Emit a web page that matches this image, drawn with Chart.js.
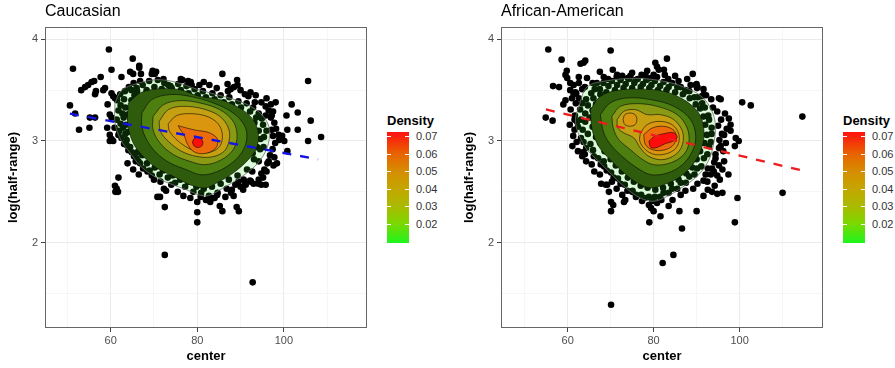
<!DOCTYPE html>
<html>
<head>
<meta charset="utf-8">
<script src="https://cdn.jsdelivr.net/npm/chart.js@4.4.0/dist/chart.umd.min.js"></script>
<style>
  body { margin: 0; background: #fff; width: 895px; height: 368px; position: relative; overflow: hidden;
         font-family: "Liberation Sans", Arial, sans-serif; }
  .panel { position: absolute; top: 0; width: 380px; height: 368px; }
  .title { position: absolute; top: 2px; font-size: 16px; line-height: 18px; color: #000; white-space: nowrap; }
  .leg-title { position: absolute; top: 113px; font-size: 13px; line-height: 15px; font-weight: bold; color: #000; }
  .bar { position: absolute; top: 132px; width: 22px; height: 111px;
         background: linear-gradient(to top, #1ef51e 0%, #7ad800 17%, #aabb00 33%, #c4a600 49%, #d68c00 65%, #e86400 80%, #ff1010 100%); }
  .tk { position: absolute; width: 4px; height: 1px; background: #fff; }
  .lab { position: absolute; font-size: 11px; line-height: 12px; color: #333; }
</style>
</head>
<body>
<div class="panel" style="left:0px"><canvas id="cau" width="380" height="368"></canvas></div>
<div class="panel" style="left:456px"><canvas id="aa" width="380" height="368"></canvas></div>
<div class="title" style="left:45px">Caucasian</div>
<div class="title" style="left:501px">African-American</div>
<div id="legends"></div>

<script>
// axis ticks
var xGrid = [50, 60, 70, 80, 90, 100, 110];
var xLabels = [60, 80, 100];
var yGrid = [1.5, 2, 2.5, 3, 3.5, 4];
var yLabels = [2, 3, 4];
var densityTicks = [0.02, 0.03, 0.04, 0.05, 0.06, 0.07];
var densityRange = [0.0089, 0.0723];

// Caucasian: observations (center, log(half-range))
var cauPoints = [
  [59.6,3.90],[51.3,3.71],[60.2,3.70],[65.1,3.81],[66.6,3.74],[66.6,3.72],[64.5,3.68],[69.5,3.66],[70.5,3.68],[69.7,3.69],
  [62.5,3.63],[57.7,3.63],[56.2,3.59],[53.2,3.50],[54.1,3.53],[54.8,3.55],[55.6,3.58],[56.6,3.49],[56.4,3.46],[58.7,3.52],
  [58.3,3.50],[60.2,3.47],[60.6,3.44],[61.4,3.42],[50.6,3.35],[51.8,3.27],[55.2,3.23],[56.4,3.23],[59.3,3.36],[59.8,3.26],
  [60.2,3.23],[52.7,3.11],[55.1,3.13],[59.2,3.13],[59.8,3.06],[60.2,3.02],[59.8,3.00],[60.6,3.00],[61.8,3.06],[60.9,3.13],
  [63.7,2.96],[64.1,2.91],[66.0,2.83],[66.4,2.80],[63.9,2.78],[65.2,2.72],[61.8,2.64],[61.0,2.56],[61.4,2.53],[61.7,2.50],
  [61.1,2.50],[66.5,2.67],[69.5,2.66],[70.8,2.45],[71.4,2.45],[72.5,2.35],[72.5,1.88],[72.3,2.53],[72.8,2.51],[74.0,2.57],
  [80.0,2.40],[80.0,2.30],[80.0,2.20],[80.8,2.45],[85.2,2.36],[85.8,2.31],[86.5,2.45],[87.8,2.49],[89.1,2.35],[89.6,2.31],
  [92.2,2.61],[94.8,2.57],[95.8,2.57],[92.8,1.61],[85.8,3.66],[65.2,3.66],[67.0,3.66],[70.2,3.66],[72.2,3.61],[73.3,3.55],
  [74.1,3.52],[76.2,3.61],[77.9,3.59],[78.7,3.55],[66.8,3.59],[66.0,3.52],[64.8,3.50],[63.3,3.49],[62.2,3.46],[61.0,3.42],
  [76.6,3.60],[78.5,3.58],[89.2,3.60],[89.3,3.55],[87.7,3.51],[87.1,3.49],[91.8,3.44],[93.3,3.38],[98.1,3.38],[101.8,3.36],
  [103.2,3.28],[100.6,3.25],[106.2,3.20],[105.6,3.59],[108.6,3.04],[105.6,3.00],[100.8,3.11],[103.2,3.11],[100.8,2.90],[99.6,3.05],
  [98.8,3.06],[100.1,3.00],[98.9,3.01],[95.8,3.25],[97.5,3.29],[97.0,3.23],[97.2,3.11],[96.5,2.80],[94.1,2.58],[92.4,2.60],
  [89.5,2.60],[83.8,2.44],[84.6,2.47],[88.4,2.46],[90.6,2.52],[91.2,2.57],[96.0,2.70],[95.2,2.64],[97.6,2.76],
  [61.5,3.40],[62.3,3.35],[63.1,3.41],[61.8,3.30],[62.7,3.27],[63.4,3.33],[61.4,3.21],[62.3,3.17],[63.0,3.23],[63.9,3.26],
  [62.0,3.10],[62.9,3.13],[63.5,3.16],[62.5,3.03],[63.4,3.07],[64.1,3.09],[63.1,2.97],[63.7,3.01],[64.5,2.94],[64.9,2.89],
  [65.4,2.85],[66.1,2.89],
  [64.2,3.53],[65.3,3.57],[66.1,3.49],[67.4,3.55],[68.3,3.50],[68.9,3.59],[70.1,3.53],[70.9,3.60],[71.8,3.51],[72.4,3.57],
  [73.8,3.54],[74.3,3.49],[75.6,3.56],[76.2,3.50],[77.5,3.54],[78.0,3.47],[79.4,3.51],[80.1,3.45],[81.3,3.49],[82.0,3.43],
  [83.5,3.47],[84.0,3.41],[85.4,3.45],[86.1,3.38],[87.4,3.43],[88.0,3.36],[89.5,3.39],[90.1,3.33],[91.4,3.37],[92.2,3.29],
  [92.9,3.33],[93.6,3.23],[65.5,3.45],[66.5,3.42],[64.8,3.40],[65.5,3.32],[64.6,3.22],[65.2,3.12],[65.8,3.03],[66.6,2.95],
  [67.3,2.86],[68.4,2.78],[69.0,2.71],[70.2,2.74],[71.3,2.67],[72.1,2.71],[73.2,2.64],[74.3,2.66],[74.9,2.59],[76.1,2.62],
  [77.2,2.55],[77.9,2.60],[79.1,2.50],[79.8,2.55],[80.9,2.49],[81.5,2.53],[82.7,2.46],[83.4,2.55],[84.7,2.49],[85.4,2.58],
  [86.8,2.53],[87.3,2.62],[88.8,2.57],[89.3,2.66],[90.7,2.62],[91.5,2.72],[92.7,2.70],[93.1,2.82],[94.2,2.80],[94.5,2.92],
  [95.3,2.94],[95.4,3.04],[96.0,3.10],[95.2,3.16],[94.9,3.22],[94.2,3.27],[93.2,3.18],[94.2,3.10],[94.6,3.02],[93.8,2.94],
  [92.8,2.88],[96.5,3.30],[97.2,3.25],[97.8,3.18],[98.2,3.12],[97.5,3.05],[98.0,2.98],[97.4,2.92],[96.8,2.86],[97.8,2.84],
  [98.4,2.78],[96.2,2.78],[95.5,2.72],[94.8,2.68],[94.2,2.62],[93.0,2.58],[97.0,3.36],[95.8,3.34],[94.8,3.38],[96.0,3.42],
  [93.5,3.45],[92.3,3.48],[91.0,3.46],[90.0,3.50],[88.5,3.53],[87.0,3.56],[84.5,3.52],[82.8,3.55],[81.5,3.58],[80.5,3.55],
  [75.5,2.50],[76.8,2.46],[78.4,2.44],[82.0,2.42],[83.0,2.40],[84.0,2.44],[88.0,2.52],[90.0,2.55],[91.0,2.60],[71.5,2.60],
  [70.0,2.62],[68.5,2.70],[67.5,2.73],[66.8,2.78],[65.8,2.80]
];

// Caucasian: density contours, outermost first
var cauContours = [
  [[61.0,3.374],[62.5,3.498],[66.0,3.564],[70.6,3.603],[75.2,3.577],[79.8,3.511],[84.5,3.456],[89.8,3.390],[94.1,3.292],[96.4,3.161],
   [96.6,3.013],[95.6,2.882],[93.3,2.751],[89.8,2.636],[86.0,2.538],[82.5,2.462],[80.2,2.472],[77.5,2.521],[73.7,2.580],[69.8,2.659],
   [66.8,2.757],[64.5,2.882],[62.3,3.013],[61.0,3.177]],
  [[64.1,3.374],[66.8,3.472],[70.6,3.511],[76.0,3.505],[80.6,3.439],[85.2,3.407],[89.8,3.325],[92.9,3.210],[94.1,3.079],[93.7,2.931],
   [91.8,2.816],[88.3,2.685],[84.5,2.587],[81.8,2.538],[78.3,2.570],[74.5,2.652],[70.6,2.734],[67.5,2.849],[65.2,2.980],[63.9,3.177]],
  [[67.2,3.275],[69.5,3.407],[73.7,3.456],[78.3,3.439],[83.7,3.374],[88.3,3.275],[91.0,3.144],[91.4,3.013],[90.2,2.882],[87.5,2.767],
   [83.7,2.685],[80.6,2.669],[77.5,2.718],[73.7,2.784],[70.6,2.882],[68.3,3.013],[67.2,3.144]],
  [[69.8,3.243],[72.2,3.357],[76.0,3.397],[80.6,3.374],[85.2,3.308],[88.3,3.193],[89.2,3.046],[88.3,2.915],[85.6,2.816],[81.8,2.767],
   [78.3,2.800],[74.5,2.866],[71.4,2.980],[69.8,3.111]],
  [[71.2,3.193],[73.3,3.308],[76.8,3.341],[81.4,3.315],[85.2,3.243],[87.2,3.128],[87.4,3.013],[86.2,2.898],[83.3,2.843],[79.8,2.849],
   [76.4,2.898],[73.3,2.997],[71.5,3.095]],
  [[73.3,3.170],[75.2,3.249],[78.3,3.269],[82.2,3.243],[84.8,3.170],[85.8,3.062],[85.2,2.948],[82.9,2.889],[79.8,2.898],[77.2,2.948],
   [74.8,3.030],[73.5,3.105]],
  [[75.6,3.151],[77.5,3.128],[79.8,3.105],[82.5,3.085],[84.5,3.030],[84.6,2.954],[83.3,2.898],[81.0,2.875],[79.1,2.898],[77.8,2.964],
   [76.9,3.062],[76.0,3.118]],
  [[78.9,2.985],[79.2,3.020],[80.0,3.035],[80.9,3.020],[81.3,2.985],[81.0,2.950],[80.1,2.935],[79.3,2.950]]
];
var cauFit = [[50.6, 3.268], [107.9, 2.820]];

// African-American: observations
var aaPoints = [
  [55.5,3.90],[70.0,3.89],[58.6,3.80],[83.1,3.81],[64.1,3.79],[63.7,3.77],[63.0,3.76],[59.8,3.69],[59.5,3.65],[59.9,3.62],
  [56.6,3.54],[58.0,3.53],[59.5,3.40],[59.0,3.36],[62.6,3.57],[60.6,3.57],[62.6,3.63],[64.5,3.62],[67.5,3.68],[70.5,3.70],
  [71.5,3.65],[72.7,3.64],[54.9,3.23],[56.5,3.20],[61.1,2.95],[61.6,3.11],[61.6,3.21],[62.2,3.19],[63.5,2.89],[64.0,2.87],
  [68.4,2.80],[68.9,2.57],[69.6,2.50],[70.1,2.40],[70.6,2.37],[70.1,2.31],[73.1,2.40],[75.0,2.50],[79.0,2.20],[80.0,2.31],
  [81.6,2.26],[83.5,2.36],[86.0,2.31],[86.6,2.14],[90.0,2.31],[84.6,1.88],[82.1,1.80],[70.1,1.39],[98.9,2.20],[99.5,2.44],
  [96.0,2.49],[97.4,2.67],[99.8,3.00],[98.9,2.95],[100.6,3.38],[102.6,3.35],[114.6,3.24],[110.0,2.49],[95.6,3.41],[96.6,3.27],
  [97.5,3.22],[97.9,3.16],[97.9,3.10],[99.1,3.03],[89.1,3.66],[90.0,3.56],[89.8,3.55],[90.1,3.52],[87.4,3.50],[91.7,3.46],
  [91.2,3.44],[95.2,3.42],[80.4,3.77],[81.2,3.70],[78.5,3.69],[78.1,3.65],[79.3,3.62],[80.8,3.73],[82.4,3.70],[74.6,3.64],
  [75.8,3.60],[61.4,3.55],[60.6,3.50],[61.8,3.48],[61.4,3.46],[62.6,3.42],[96.4,2.80],[94.4,2.87],[93.6,2.73],[93.3,2.67],
  [92.5,2.60],[94.0,2.70],[94.8,2.66],[95.2,2.76],[94.2,2.56],[93.6,2.50],[94.8,2.48],[92.6,2.52],[96.0,2.72],[95.4,2.62],
  [91.6,2.46],[96.2,2.90],[95.6,2.95],[96.8,2.98],[96.4,3.06],[97.0,3.12],
  [62.9,3.31],[63.4,3.37],[64.3,3.41],[63.1,3.21],[64.1,3.27],[64.7,3.35],[62.4,3.14],[63.5,3.11],[64.1,3.19],[65.1,3.23],
  [63.1,3.03],[63.7,2.99],[64.7,3.07],[65.3,2.97],[64.3,2.93],[65.9,2.91],[66.1,2.85],[67.1,2.83],[67.7,2.77],[68.5,2.75],
  [69.1,2.71],[70.1,2.69],[70.7,2.64],[71.7,2.63],[72.3,2.58],[73.3,2.57],[73.9,2.51],[75.1,2.51],[75.9,2.47],[77.1,2.47],
  [77.9,2.44],[78.9,2.45],[79.7,2.41],[80.3,2.45],[81.5,2.45],[82.3,2.49],[83.5,2.49],[84.3,2.53],[85.5,2.53],[86.3,2.59],
  [87.5,2.59],[88.3,2.65],[89.5,2.67],[90.1,2.73],[91.1,2.75],[91.7,2.83],[92.5,2.87],[92.9,2.95],[93.3,2.99],[93.5,3.07],
  [93.5,3.13],[92.9,3.21],[92.7,3.25],[91.9,3.33],[91.3,3.37],[90.3,3.43],[89.5,3.43],[88.3,3.49],[87.5,3.49],[86.3,3.53],
  [85.5,3.53],[84.3,3.57],[83.5,3.53],[82.3,3.58],[81.5,3.54],[80.3,3.59],[79.5,3.55],[78.3,3.60],[77.5,3.56],[76.3,3.61],
  [75.5,3.57],[74.3,3.61],[73.5,3.56],[72.3,3.60],[71.5,3.55],[70.3,3.59],[69.5,3.54],[68.3,3.57],[67.5,3.51],[66.3,3.51],
  [65.5,3.47],[66.0,3.42],[66.6,3.36],[65.8,3.30],[66.8,3.22],[65.8,3.14],[66.6,3.04],[67.6,2.98],[68.6,2.90],[70.0,2.82],
  [71.2,2.76],[72.6,2.70],[74.0,2.64],[75.4,2.60],[77.0,2.56],[78.6,2.54],[80.4,2.52],[82.2,2.54],[84.0,2.58],[85.8,2.62],
  [87.6,2.68],[89.0,2.74],[90.0,2.82],[90.8,2.90],[91.8,2.98],[92.4,3.06],[92.0,3.16],[91.6,3.24],[90.8,3.32],[89.8,3.36],
  [88.4,3.42],[86.8,3.46],[85.0,3.48],[83.0,3.50],[81.0,3.50],[79.0,3.52],[77.0,3.53],[75.0,3.52],[73.0,3.52],[71.0,3.50],
  [69.0,3.48],[67.6,3.46],
  [61.0,3.42],[61.9,3.37],[60.7,3.31],[61.7,3.25],[60.5,3.16],[61.3,3.05],[62.1,2.99],[62.4,2.90],[63.4,2.85],[64.3,2.80],
  [65.6,2.77],[66.2,2.70],[67.5,2.67],[67.8,2.58],[69.2,2.57],[70.3,2.60],[71.4,2.53],[72.7,2.47],[73.4,2.42],[75.9,2.45],
  [77.3,2.41],[78.9,2.37],[79.4,2.34],[80.8,2.39],[81.8,2.42],[84.4,2.42],[86.3,2.47],[87.4,2.51],[89.2,2.53],[90.2,2.58],
  [91.6,2.61],[92.1,2.67],[92.6,2.73],[94.1,2.79],[94.4,2.83],[95.2,2.93],[95.3,3.01],[95.9,3.07],[95.0,3.15],[95.7,3.21],
  [94.8,3.29],[93.8,3.33],[93.4,3.41],[92.2,3.45],[91.6,3.51],[90.2,3.53],[88.6,3.55],[87.8,3.61],[85.8,3.59],[85.0,3.64],
  [83.4,3.61],[82.6,3.65],[80.8,3.63],[80.0,3.65],[78.6,3.61],[77.2,3.65],[75.0,3.67],[74.0,3.62],[72.4,3.62],[71.4,3.63],
  [69.4,3.61],[68.4,3.63],[66.8,3.57],[65.8,3.57],[64.0,3.53],[63.4,3.51],[62.0,3.47]
];

// African-American: density contours, outermost first
var aaContours = [
  [[62.6,3.341],[64.5,3.531],[69.2,3.593],[76.2,3.616],[82.4,3.587],[87.0,3.531],[91.3,3.433],[93.6,3.292],[94.4,3.144],[94.0,2.980],
   [92.9,2.816],[90.5,2.669],[87.0,2.554],[83.2,2.456],[80.0,2.407],[76.9,2.439],[73.1,2.554],[69.9,2.685],[67.2,2.800],[64.5,2.915],
   [62.6,3.062],[61.8,3.210]],
  [[65.3,3.308],[67.6,3.439],[71.5,3.498],[76.9,3.511],[82.4,3.489],[87.0,3.407],[90.5,3.275],[91.7,3.111],[91.3,2.948],[89.4,2.784],
   [86.3,2.652],[82.4,2.570],[79.3,2.538],[76.2,2.587],[73.1,2.685],[69.9,2.816],[67.2,2.948],[65.7,3.111]],
  [[67.6,3.259],[69.9,3.374],[73.8,3.423],[79.3,3.407],[84.7,3.341],[88.6,3.210],[89.8,3.046],[89.0,2.898],[86.7,2.767],[83.2,2.685],
   [79.3,2.669],[76.2,2.734],[73.1,2.833],[70.3,2.948],[68.4,3.079]],
  [[70.3,3.243],[72.3,3.341],[76.2,3.367],[80.8,3.341],[85.5,3.259],[87.8,3.128],[88.2,2.980],[87.0,2.866],[83.9,2.784],[80.0,2.767],
   [76.9,2.833],[74.6,2.915],[71.9,3.013],[70.6,3.128]],
  [[71.5,3.210],[73.1,3.292],[75.8,3.308],[78.5,3.259],[81.6,3.259],[84.7,3.210],[86.7,3.095],[86.7,2.964],[85.1,2.866],[82.0,2.816],
   [78.9,2.849],[76.9,2.931],[75.4,3.030],[73.1,3.079],[71.7,3.128]],
  [[76.9,3.079],[78.5,3.161],[81.2,3.193],[84.3,3.161],[85.9,3.062],[85.5,2.948],[83.5,2.882],[80.4,2.866],[78.1,2.915],[76.8,2.997]],
  [[77.7,3.062],[79.7,3.128],[82.4,3.144],[84.7,3.105],[85.3,3.030],[84.3,2.948],[82.0,2.908],[79.7,2.915],[78.1,2.964]],
  [[78.9,2.997],[80.2,3.045],[82.4,3.072],[84.6,3.082],[85.5,3.040],[84.6,3.000],[82.6,2.972],[80.9,2.938],[79.4,2.935]]
];
// secondary peak of the African-American density
var aaPeak2 = [[72.9,3.210],[73.3,3.258],[74.5,3.275],[75.7,3.258],[76.1,3.210],[75.7,3.162],[74.5,3.145],[73.3,3.162]];
var aaFit = [[54.95, 3.31], [114.5, 2.71]];

// fill colour for each contour level
var levelFills = ['rgba(50,225,35,0.17)', '#2f5c0c', '#4d7e10', '#8a9a14', '#c4a012', '#d9960e', '#ec6c0c', '#ff0d0d'];

function pts(arr) {
  return arr.map(function (p) { return {x: p[0], y: p[1]}; });
}

function polygon(arr, i, fill) {
  return {
    data: pts(arr.concat([arr[0]])),
    showLine: true,
    fill: 'shape',
    tension: 0.35,
    pointRadius: 0,
    backgroundColor: fill,
    borderColor: i === 0 ? '#6e6e6e' : 'rgba(0,0,0,0.7)',
    borderWidth: 0.8,
    order: 90 - i * 10
  };
}

function buildDatasets(points, contours, fit, fitColor) {
  var ds = [{
    data: pts(points),
    pointRadius: 3.3,
    pointBackgroundColor: '#000',
    pointBorderWidth: 0,
    order: 100
  }];
  contours.forEach(function (poly, i) {
    ds.push(polygon(poly, i, levelFills[i]));
  });
  ds.push({
    data: pts(fit),
    showLine: true,
    pointRadius: 0,
    borderColor: fitColor,
    borderWidth: 2.3,
    borderDash: [9, 9],
    fill: false,
    order: 0
  });
  return ds;
}

// panel frame
var frame = {
  id: 'frame',
  afterDatasetsDraw: function (chart) {
    var a = chart.chartArea, c = chart.ctx;
    c.save();
    c.strokeStyle = '#666';
    c.lineWidth = 1;
    c.strokeRect(Math.round(a.left) + 0.5, Math.round(a.top) + 0.5,
                 Math.round(a.right - a.left) - 1, Math.round(a.bottom - a.top) - 1);
    c.restore();
  }
};

function gridOpts(isMajor) {
  return {
    color: function (c) { return isMajor(c.tick && c.tick.value) ? '#ebebeb' : '#f4f4f4'; },
    lineWidth: function (c) { return isMajor(c.tick && c.tick.value) ? 1 : 0.8; },
    tickColor: function (c) { return isMajor(c.tick && c.tick.value) ? '#444' : 'rgba(0,0,0,0)'; },
    tickLength: 4,
    drawTicks: true
  };
}

function makeChart(id, datasets, xMin, xMax) {
  return new Chart(document.getElementById(id), {
    type: 'scatter',
    data: {datasets: datasets},
    plugins: [frame],
    options: {
      responsive: false,
      animation: false,
      events: [],
      layout: {padding: {left: 0, right: 13, top: 27, bottom: 0}},
      plugins: {legend: {display: false}, tooltip: {enabled: false}},
      scales: {
        x: {
          type: 'linear', min: xMin, max: xMax,
          afterBuildTicks: function (s) { s.ticks = xGrid.map(function (v) { return {value: v}; }); },
          afterFit: function (s) { s.height = 40; },
          ticks: {
            autoSkip: false, maxRotation: 0, padding: 2, color: '#4d4d4d',
            font: {family: 'Liberation Sans', size: 11},
            callback: function (v) { return xLabels.indexOf(v) >= 0 ? String(v) : ''; }
          },
          grid: gridOpts(function (v) { return xLabels.indexOf(v) >= 0; }),
          border: {display: false},
          title: {display: true, text: 'center', color: '#000',
                  font: {family: 'Liberation Sans', size: 13, weight: 'bold'}, padding: {top: 0, bottom: 4}}
        },
        y: {
          type: 'linear', min: 1.161, max: 4.121,
          afterBuildTicks: function (s) { s.ticks = yGrid.map(function (v) { return {value: v}; }); },
          afterFit: function (s) { s.width = 45; },
          ticks: {
            autoSkip: false, padding: 3, color: '#4d4d4d',
            font: {family: 'Liberation Sans', size: 11},
            callback: function (v) { return yLabels.indexOf(v) >= 0 ? String(v) : ''; }
          },
          grid: gridOpts(function (v) { return yLabels.indexOf(v) >= 0; }),
          border: {display: false},
          title: {display: true, text: 'log(half-range)', color: '#000',
                  font: {family: 'Liberation Sans', size: 13, weight: 'bold'}, padding: {top: 6, bottom: 0}}
        }
      }
    }
  });
}

var aaDatasets = buildDatasets(aaPoints, aaContours, aaFit, '#ee1c1c');
aaDatasets.push(polygon(aaPeak2, 5, levelFills[5]));

makeChart('cau', buildDatasets(cauPoints, cauContours, cauFit, '#1414e6'), 44.84, 119.2);
makeChart('aa', aaDatasets, 44.5, 119.4);

// colour bar legends
function addLegend(left) {
  var top = 132, h = 111;
  var html = '<div class="leg-title" style="left:' + left + 'px">Density</div>' +
             '<div class="bar" style="left:' + left + 'px"></div>';
  densityTicks.forEach(function (v) {
    var y = Math.round(top + h - (v - densityRange[0]) / (densityRange[1] - densityRange[0]) * h);
    html += '<div class="tk" style="left:' + left + 'px;top:' + y + 'px"></div>';
    html += '<div class="tk" style="left:' + (left + 18) + 'px;top:' + y + 'px"></div>';
    html += '<div class="lab" style="left:' + (left + 29) + 'px;top:' + (y - 6) + 'px">' + v.toFixed(2) + '</div>';
  });
  document.getElementById('legends').insertAdjacentHTML('beforeend', html);
}
addLegend(387);
addLegend(843);
</script>
</body>
</html>
